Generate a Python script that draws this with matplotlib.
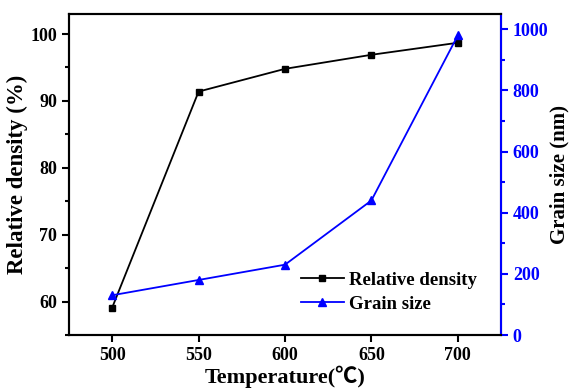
import matplotlib
matplotlib.use("Agg")
import matplotlib.pyplot as plt
from matplotlib.ticker import MultipleLocator

temperature = [500, 550, 600, 650, 700]
relative_density = [59.1, 91.4, 94.8, 96.9, 98.7]
grain_size = [130, 180, 230, 440, 980]

fam = ['Liberation Serif', 'Noto Sans CJK SC', 'DejaVu Serif']
plt.rcParams['font.family'] = fam
plt.rcParams['font.weight'] = 'bold'

fig = plt.figure(figsize=(5.70, 3.89), dpi=100)
ax = fig.add_axes([69/570, 1-335/389, (501-69)/570, (335-14)/389])
ax2 = ax.twinx()

l1, = ax.plot(temperature, relative_density, color='black', marker='s', markersize=5,
              linewidth=1.3, label='Relative density')
l2, = ax2.plot(temperature, grain_size, color='blue', marker='^', markersize=6,
               linewidth=1.3, label='Grain size')

ax.set_xlim(475, 725)
ax.set_ylim(55, 103)
ax2.set_ylim(0, 1050)
ax.set_xticks(temperature)
ax.yaxis.set_major_locator(MultipleLocator(10))
ax.yaxis.set_minor_locator(MultipleLocator(5))
ax2.yaxis.set_major_locator(MultipleLocator(200))
ax2.yaxis.set_minor_locator(MultipleLocator(100))

for a in (ax, ax2):
    for s in a.spines.values():
        s.set_linewidth(1.5)
ax2.spines['right'].set_color('blue')
ax.tick_params(axis='both', which='both', direction='out', width=1.5, labelsize=13)
ax.tick_params(which='major', length=5)
ax.tick_params(which='minor', length=3)
ax2.tick_params(axis='y', which='both', colors='blue', width=1.5, labelsize=13)
ax2.tick_params(which='major', length=5)
ax2.tick_params(which='minor', length=3)

ax.set_xlabel('Temperature(℃)', fontsize=16, fontweight='bold', labelpad=1)
ax.set_ylabel('Relative density (%)', fontsize=16.5, fontweight='bold', labelpad=2)
ax2.set_ylabel('Grain size (nm)', fontsize=15, fontweight='bold', labelpad=1)

ax.legend(handles=[l1, l2], loc='lower right', bbox_to_anchor=(0.945, 0.07), frameon=False,
          fontsize=13.5, handlelength=2.3, handletextpad=0.3, borderaxespad=0,
          borderpad=0, labelspacing=0.35)

fig.savefig('out.png', dpi=100)
